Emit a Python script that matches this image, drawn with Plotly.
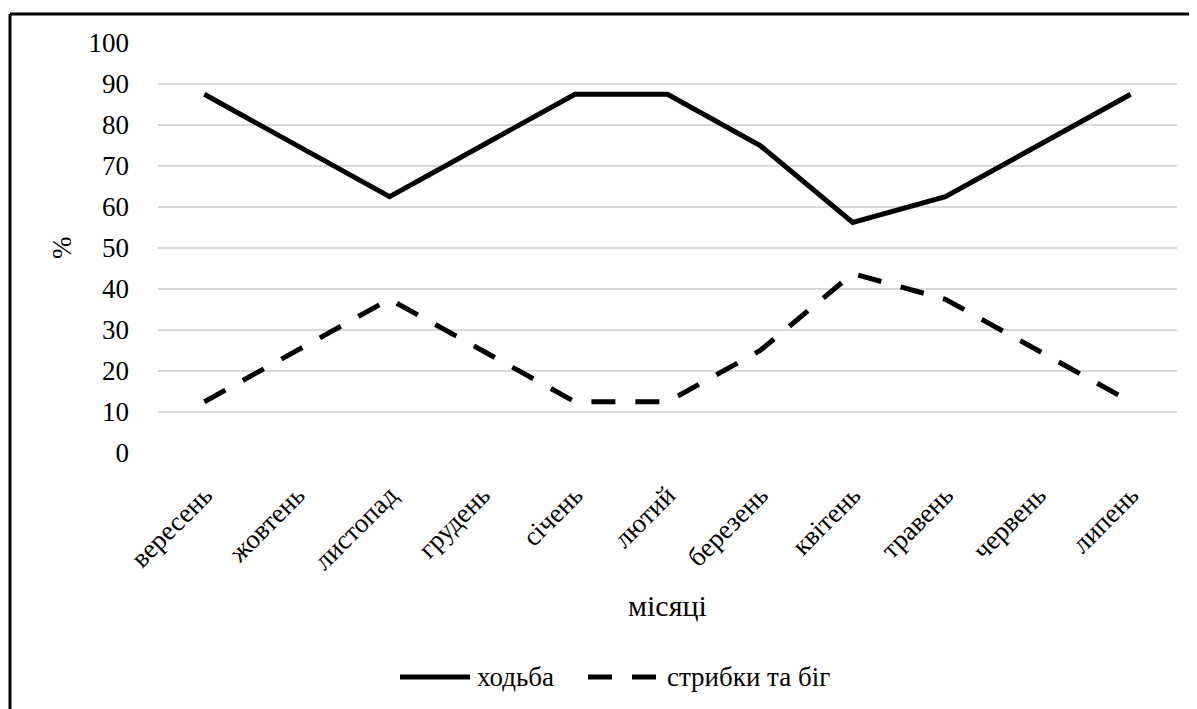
import plotly.graph_objects as go

months = ["вересень", "жовтень", "листопад", "грудень", "січень", "лютий",
          "березень", "квітень", "травень", "червень", "липень"]
walking = [87.5, 75, 62.5, 75, 87.5, 87.5, 75, 56.25, 62.5, 75, 87.5]
jumping_running = [12.5, 25, 37.5, 25, 12.5, 12.5, 25, 43.75, 37.5, 25, 12.5]
y_ticks = list(range(0, 101, 10))
series_names = ["ходьба", "стрибки та біг"]

FONT = "Liberation Serif, Times New Roman, serif"
DASH = "24px,20px"

fig = go.Figure()
fig.add_trace(go.Scatter(x=months, y=walking, mode="lines", name=series_names[0],
                         line=dict(color="black", width=5), showlegend=False))
fig.add_trace(go.Scatter(x=months, y=jumping_running, mode="lines", name=series_names[1],
                         line=dict(color="black", width=5, dash=DASH), showlegend=False))

OFF = 8  # page body margin
W, H = 1197 - OFF, 709 - OFF
L, R, T, B = 150, 20, 35, 256
pw, ph = W - L - R, H - T - B


def px(sx):
    return (sx - OFF - L) / pw


def py(sy):
    return (H - B - (sy - OFF)) / ph


LEG_Y = 677
shapes = [
    dict(type="line", xref="paper", yref="paper", x0=px(10), x1=px(1197), y0=py(14), y1=py(14),
         line=dict(color="black", width=3)),
    dict(type="line", xref="paper", yref="paper", x0=px(10), x1=px(10), y0=py(14), y1=py(709),
         line=dict(color="black", width=3)),
    # legend samples
    dict(type="line", xref="paper", yref="paper", x0=px(400), x1=px(470), y0=py(LEG_Y), y1=py(LEG_Y),
         line=dict(color="black", width=5)),
    dict(type="line", xref="paper", yref="paper", x0=px(588), x1=px(657), y0=py(LEG_Y), y1=py(LEG_Y),
         line=dict(color="black", width=5, dash=DASH)),
]

annotations = [
    dict(text="місяці", xref="paper", yref="paper", x=0.5, y=py(605), showarrow=False,
         xanchor="center", yanchor="middle", font=dict(size=30, family=FONT)),
    dict(text="%", xref="paper", yref="paper", x=px(62), y=py(248), showarrow=False,
         textangle=-90, xanchor="center", yanchor="middle", font=dict(size=27, family=FONT)),
    dict(text=series_names[0], xref="paper", yref="paper", x=px(475), y=py(LEG_Y), showarrow=False,
         xanchor="left", yanchor="middle", font=dict(size=27, family=FONT)),
    dict(text=series_names[1], xref="paper", yref="paper", x=px(665), y=py(LEG_Y), showarrow=False,
         xanchor="left", yanchor="middle", font=dict(size=27, family=FONT)),
]

fig.update_layout(
    width=W, height=H,
    margin=dict(l=L, r=R, t=T, b=B),
    paper_bgcolor="white", plot_bgcolor="white",
    font=dict(family=FONT, color="black", size=27),
    showlegend=False,
    xaxis=dict(type="category", range=[-0.5, len(months) - 0.5], tickangle=-45,
               showgrid=False, showline=False, zeroline=False,
               tickfont=dict(size=27, family=FONT), ticklabelstandoff=20),
    yaxis=dict(range=[0, 100], tickvals=y_ticks, showgrid=True, gridcolor="#d9d9d9", gridwidth=1.5,
               zeroline=False, showline=False, tickfont=dict(size=27, family=FONT),
               ticklabelstandoff=28),
    shapes=shapes,
    annotations=annotations,
)

fig.write_html("out.html")
